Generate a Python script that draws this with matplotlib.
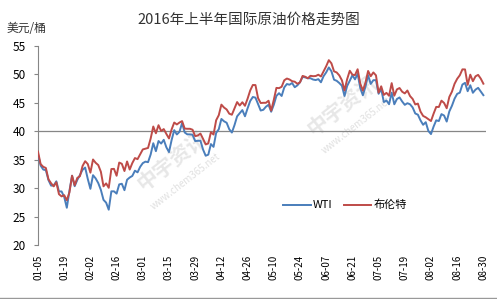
import numpy as np
import pandas as pd
import matplotlib
matplotlib.use('Agg')
import matplotlib.pyplot as plt

plt.rcParams['font.family'] = ['Noto Sans CJK SC', 'DejaVu Sans']

## data (weekdays 2016-01-05 .. 2016-08-30)

dates = pd.bdate_range('2016-01-05', '2016-08-30')

wti = [35.97, 33.97, 33.27, 33.16, 31.41, 30.44, 30.48, 31.20, 29.42, 29.42,
       28.46, 26.55, 29.53, 32.19, 30.34, 31.45, 32.30, 33.22, 33.62,
       31.62, 29.88, 32.28, 31.72, 30.89, 29.69, 27.94, 27.45, 26.21, 29.44,
       29.44, 29.04, 30.66, 30.77, 29.64, 31.48, 31.87, 32.15, 33.07, 32.78, 33.75,
       34.40, 34.66, 34.57, 35.92, 37.90, 36.50, 38.29, 37.84, 38.50, 37.18,
       36.34, 38.46, 40.20, 39.44, 39.91, 41.45, 39.79, 39.46, 39.46, 39.39,
       38.28, 38.32, 38.34,
       36.79, 35.70, 35.89, 37.75, 37.26, 39.72, 40.36, 42.17, 41.76, 41.50,
       40.36, 39.78, 41.08, 42.63, 43.18, 43.73, 42.64, 44.04, 45.33, 46.03, 45.92,
       44.78, 43.65, 43.78, 44.32, 44.66, 43.44, 44.66, 46.23, 46.70, 46.21,
       47.72, 48.31, 48.19, 48.49, 47.75, 48.08, 48.62, 49.56, 49.48, 49.33,
       49.33, 49.10,
       49.01, 49.17, 48.62, 49.69, 50.36, 51.23, 50.56, 49.07, 48.88, 48.49,
       48.01, 46.21, 47.98, 48.89, 49.85, 49.13, 50.11, 47.64, 46.33, 47.85,
       49.88, 48.33,
       48.99, 48.99, 46.60, 47.43, 45.14, 45.41, 44.76, 46.80, 44.75, 45.68,
       45.95, 45.24, 44.65, 44.94, 44.75, 44.19, 43.13, 42.92, 41.92, 41.14, 41.60,
       40.06, 39.51, 40.83, 41.93, 41.80, 43.02, 42.77, 41.71, 43.49, 44.49,
       45.74, 46.58, 46.79, 48.22, 48.52, 47.05, 48.10, 46.77, 47.33, 47.64,
       46.98, 46.35]

brent = [36.42, 34.23, 33.75, 33.55, 31.55, 30.86, 30.31, 31.03, 28.94, 28.55,
         28.76, 27.88, 29.25, 32.18, 30.50, 31.80, 32.10, 33.89, 34.74,
         34.24, 32.72, 35.04, 34.46, 34.06, 32.88, 30.32, 30.84, 30.06, 33.36,
         33.39, 32.18, 34.50, 34.28, 33.01, 34.69, 33.27, 34.41, 35.29, 35.10, 35.97,
         36.81, 36.93, 37.07, 38.72, 40.84, 39.65, 41.07, 40.05, 40.39, 39.53,
         38.74, 40.33, 41.54, 41.20, 41.54, 41.79, 40.47, 40.44, 40.44, 40.27,
         39.14, 39.26, 39.60,
         38.67, 37.69, 37.87, 39.84, 39.43, 41.94, 42.83, 44.69, 44.18, 43.84,
         43.10, 42.91, 44.03, 45.14, 44.53, 45.11, 44.48, 45.74, 47.18, 48.14, 48.13,
         45.83, 44.97, 45.01, 45.01, 45.37, 43.63, 45.52, 47.63, 47.59, 47.83,
         48.97, 49.28, 49.11, 48.81, 48.72, 48.35, 48.61, 49.74, 49.59, 49.32,
         49.76, 49.69,
         49.72, 49.95, 49.64, 50.55, 51.44, 52.51, 51.95, 50.54, 50.35, 49.83,
         48.97, 47.19, 49.17, 50.65, 49.96, 49.88, 50.91, 48.41, 47.16, 48.58,
         50.61, 49.68,
         50.35, 49.84, 46.80, 47.91, 46.40, 46.76, 46.25, 48.47, 46.26, 47.37,
         47.61, 46.96, 46.66, 47.17, 46.20, 45.69, 44.72, 44.87, 43.47, 42.70, 42.46,
         42.14, 41.80, 43.10, 44.29, 44.27, 45.39, 44.98, 44.05, 46.04, 46.97,
         48.35, 49.23, 49.85, 50.89, 50.88, 48.16, 49.96, 48.81, 49.67, 49.92,
         49.26, 48.37]

series_names = ['WTI', '布伦特']
colors = ['#4A7EBB', '#BE4B48']
title = '2016年上半年国际原油价格走势图'
unit = '美元/桶'

assert len(wti) == len(dates) and len(brent) == len(dates)

## plot

fig = plt.figure(figsize=(4.97, 2.99), dpi=100)
ax = fig.add_axes([38/497, 1-245/299, 448/497, 199/299])

x = np.arange(len(dates))
ax.plot(x, wti, color=colors[0], lw=1.4, label=series_names[0], zorder=3)
ax.plot(x, brent, color=colors[1], lw=1.4, label=series_names[1], zorder=3)

ax.set_xlim(0, 171)
ax.set_ylim(20, 55)
ax.set_yticks(np.arange(20, 56, 5))
ax.tick_params(axis='y', labelsize=8.5, length=3, color='#868686', pad=6)

tick_idx = x[::10]
ax.set_xticks(tick_idx)
ax.set_xticklabels([dates[i].strftime('%m-%d') for i in tick_idx], rotation=90, fontsize=7)
ax.tick_params(axis='x', length=0, pad=7)

for s in ['top', 'right', 'bottom']:
	ax.spines[s].set_visible(False)
ax.spines['left'].set_color('#868686')
ax.axhline(40, color='#868686', lw=0.9, zorder=2)

# watermark
for (wx, wy) in [(0.30, 0.42), (0.68, 0.70)]:
	ax.text(wx, wy, '中宇资讯', transform=ax.transAxes, rotation=38, fontsize=15,
			color='#bbbbbb', alpha=0.35, ha='center', va='center', fontweight='bold', zorder=1)
	ax.text(wx + 0.03, wy - 0.1, 'www.chem365.net', transform=ax.transAxes, rotation=38,
			fontsize=7, color='#bbbbbb', alpha=0.45, ha='center', va='center', zorder=1)

ax.legend(loc='center', bbox_to_anchor=(0.685, 0.20), ncol=2, frameon=False,
		  fontsize=8, handlelength=2.5, handletextpad=0.2, columnspacing=1.0)

fig.text(0.5, 1-20/299, title, ha='center', va='center', fontsize=10.5, color='#333333')
fig.text(7/497, 1-28/299, unit, ha='left', va='center', fontsize=8.5, color='#333333')

fig.add_artist(plt.Line2D([0, 1], [0.004, 0.004], color='#999999', lw=1.0))

fig.savefig('out.png', dpi=100)
